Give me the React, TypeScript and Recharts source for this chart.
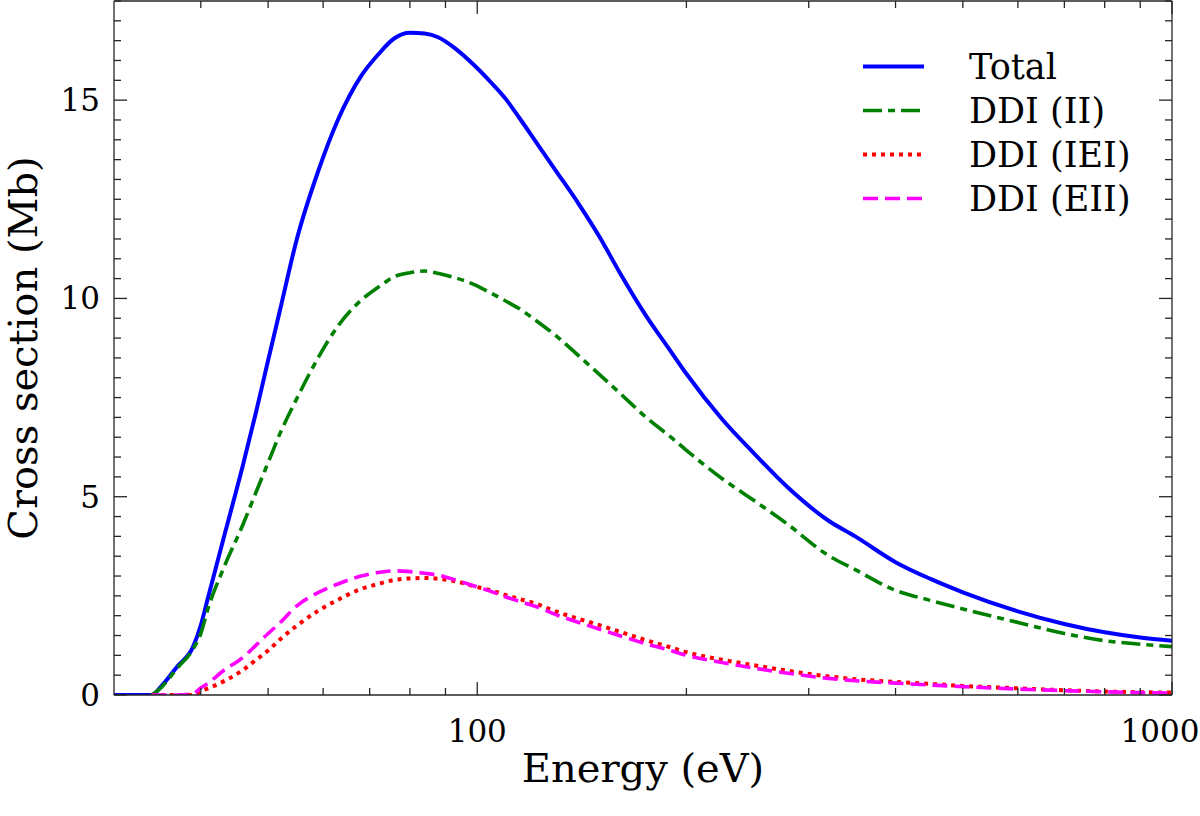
import { LineChart, Line, XAxis, YAxis, Legend } from "recharts";

const FONT = "'DejaVu Serif', serif";
const AXIS = "#262626";

// energy grid (eV)
const energy = [
  30, 34, 35, 37, 39, 40, 41, 43, 46, 48,
  50, 52, 55, 59, 63, 68, 72, 76, 80, 84,
  88, 93, 99, 105, 110, 115, 122, 130, 140, 150,
  160, 175, 190, 200, 225, 250, 280, 320, 350, 400,
  450, 500, 600, 700, 800, 900, 1000,
];

// cross sections (Mb)
const total = [
  0, 0, 0.2, 0.72, 1.22, 1.76, 2.48, 3.86, 5.8, 7.11,
  8.44, 9.7, 11.5, 13.2, 14.5, 15.6, 16.15, 16.56, 16.7, 16.68,
  16.58, 16.3, 15.88, 15.42, 15.02, 14.55, 13.9, 13.2, 12.38, 11.55,
  10.68, 9.56, 8.66, 8.1, 6.96, 6.1, 5.23, 4.4, 4.0, 3.35,
  2.92, 2.59, 2.11, 1.79, 1.58, 1.45, 1.37,
];
const ddiII = [
  null, 0, 0.17, 0.68, 1.16, 1.55, 2.2, 3.14, 4.3, 5.1,
  5.86, 6.59, 7.48, 8.5, 9.3, 9.95, 10.28, 10.55, 10.65, 10.69,
  10.63, 10.52, 10.35, 10.12, 9.93, 9.74, 9.42, 9.05, 8.55, 8.08,
  7.63, 7.0, 6.5, 6.17, 5.46, 4.91, 4.3, 3.52, 3.16, 2.64,
  2.38, 2.17, 1.83, 1.55, 1.37, 1.28, 1.22,
];
const ddiIEI = [
  null, 0, 0, 0, 0, 0.1, 0.17, 0.33, 0.63, 0.88,
  1.12, 1.4, 1.75, 2.12, 2.4, 2.67, 2.8, 2.9, 2.94, 2.95,
  2.93, 2.87, 2.74, 2.63, 2.52, 2.42, 2.29, 2.1, 1.92, 1.76,
  1.6, 1.38, 1.2, 1.08, 0.89, 0.75, 0.61, 0.47, 0.4, 0.33,
  0.28, 0.23, 0.17, 0.12, 0.09, 0.07, 0.06,
];
const ddiEII = [
  null, 0, 0, 0, 0.03, 0.18, 0.3, 0.6, 0.95, 1.25,
  1.55, 1.82, 2.25, 2.58, 2.8, 3.0, 3.09, 3.13, 3.11, 3.07,
  3.02, 2.9, 2.75, 2.6, 2.47, 2.36, 2.22, 2.02, 1.83, 1.66,
  1.5, 1.29, 1.12, 1.0, 0.82, 0.68, 0.55, 0.42, 0.36, 0.3,
  0.25, 0.21, 0.15, 0.11, 0.08, 0.06, 0.05,
];

const xMajor = [100, 1000];
const xMinor = [40, 50, 60, 70, 80, 90, 200, 300, 400, 500, 600, 700, 800, 900];
const yMajor = [0, 5, 10, 15];
const yMinor = [
  0.5, 1, 1.5, 2, 2.5, 3, 3.5, 4, 4.5, 5.5, 6, 6.5, 7, 7.5, 8, 8.5, 9, 9.5,
  10.5, 11, 11.5, 12, 12.5, 13, 13.5, 14, 14.5, 15.5, 16, 16.5, 17, 17.5,
];

const series = [
  { key: "total", name: "Total", color: "#0000ff", dash: undefined, width: 4 },
  { key: "ii", name: "DDI (II)", color: "#008000", dash: "19 6 7 6", width: 3.6 },
  { key: "iei", name: "DDI (IEI)", color: "#ff0000", dash: "4 5", width: 4 },
  { key: "eii", name: "DDI (EII)", color: "#ff00ff", dash: "15 7", width: 3.6 },
];

const data = energy.map((e, i) => ({
  e,
  total: total[i],
  ii: ddiII[i],
  iei: ddiIEI[i],
  eii: ddiEII[i],
}));

const xTicks = [...xMinor, ...xMajor].sort((a, b) => a - b);
const yTicks = [...yMinor, ...yMajor].sort((a, b) => a - b);

function XTick(props: any) {
  const { x, y, payload, side } = props;
  const major = xMajor.includes(payload.value);
  const len = major ? 13 : 7;
  const top = side === "top";
  // keep the last label inside the picture
  const lx = Math.min(x, 1160);
  return (
    <g>
      <line x1={x} x2={x} y1={y} y2={top ? y + len : y - len} stroke={AXIS} strokeWidth={1.3} />
      {!top && major && (
        <text x={lx} y={y + 47} textAnchor="middle" fontFamily={FONT} fontSize={31} fill="#000">
          {payload.value}
        </text>
      )}
    </g>
  );
}

function YTick(props: any) {
  const { x, y, payload, side } = props;
  const major = yMajor.includes(payload.value);
  const len = major ? 13 : 7;
  const left = side === "left";
  return (
    <g>
      <line x1={x} x2={left ? x + len : x - len} y1={y} y2={y} stroke={AXIS} strokeWidth={1.3} />
      {left && major && (
        <text x={x - 14} y={y + 11} textAnchor="end" fontFamily={FONT} fontSize={31} fill="#000">
          {payload.value}
        </text>
      )}
    </g>
  );
}

const renderLegend = () => (
  <svg width={320} height={180}>
    {series.map((s, i) => {
      const cy = 26.5 + i * 44;
      return (
        <g key={s.key}>
          <line x1={13} x2={74} y1={cy} y2={cy} stroke={s.color} strokeWidth={s.width} strokeDasharray={s.dash} />
          <text x={119} y={cy + 12} fontFamily={FONT} fontSize={35} fill="#000">
            {s.name}
          </text>
        </g>
      );
    })}
  </svg>
);

export default function App() {
  return (
    <div style={{ width: 1200, height: 816, background: "#fff" }}>
      <style>{"body{margin:0}"}</style>
      <LineChart
        width={1200}
        height={816}
        data={data}
        margin={{ top: 0, right: 27, left: 0, bottom: 0 }}
        style={{ fontFamily: FONT }}
      >
        <XAxis
          xAxisId="bottom"
          dataKey="e"
          type="number"
          scale="log"
          domain={[30, 1000]}
          allowDataOverflow
          ticks={xTicks}
          interval={0}
          height={121}
          tickSize={0}
          tickMargin={0}
          tickLine={false}
          axisLine={{ stroke: AXIS, strokeWidth: 1.3 }}
          tick={(p: any) => <XTick {...p} side="bottom" />}
          label={({ viewBox }: any) => (
            <text
              x={viewBox.x + viewBox.width / 2}
              y={viewBox.y + 87}
              textAnchor="middle"
              fontFamily={FONT}
              fontSize={40}
              fill="#000"
            >
              Energy (eV)
            </text>
          )}
        />
        <XAxis
          xAxisId="top"
          orientation="top"
          dataKey="e"
          type="number"
          scale="log"
          domain={[30, 1000]}
          allowDataOverflow
          ticks={xTicks}
          interval={0}
          height={1}
          tickSize={0}
          tickMargin={0}
          tickLine={false}
          axisLine={{ stroke: AXIS, strokeWidth: 1.3 }}
          tick={(p: any) => <XTick {...p} side="top" />}
        />
        <YAxis
          yAxisId="left"
          type="number"
          domain={[0, 17.5]}
          allowDataOverflow
          ticks={yTicks}
          interval={0}
          width={114}
          tickSize={0}
          tickMargin={0}
          tickLine={false}
          axisLine={{ stroke: AXIS, strokeWidth: 1.3 }}
          tick={(p: any) => <YTick {...p} side="left" />}
          label={({ viewBox }: any) => {
            const cx = viewBox.x + 37;
            const cy = viewBox.y + viewBox.height / 2;
            return (
              <text
                x={cx}
                y={cy}
                transform={`rotate(-90, ${cx}, ${cy})`}
                textAnchor="middle"
                fontFamily={FONT}
                fontSize={40}
                fill="#000"
              >
                Cross section (Mb)
              </text>
            );
          }}
        />
        <YAxis
          yAxisId="right"
          orientation="right"
          type="number"
          domain={[0, 17.5]}
          allowDataOverflow
          ticks={yTicks}
          interval={0}
          width={1}
          tickSize={0}
          tickMargin={0}
          tickLine={false}
          axisLine={{ stroke: AXIS, strokeWidth: 1.3 }}
          tick={(p: any) => <YTick {...p} side="right" />}
        />
        {series.map((s) => (
          <Line
            key={s.key}
            xAxisId="bottom"
            yAxisId="left"
            type="monotone"
            dataKey={s.key}
            name={s.name}
            stroke={s.color}
            strokeWidth={s.width}
            strokeDasharray={s.dash}
            dot={false}
            activeDot={false}
            isAnimationActive={false}
          />
        ))}
        <Legend
          layout="horizontal"
          verticalAlign="middle"
          align="center"
          content={renderLegend}
          wrapperStyle={{ left: 850, top: 40, width: 320, height: 180 }}
        />
      </LineChart>
    </div>
  );
}
